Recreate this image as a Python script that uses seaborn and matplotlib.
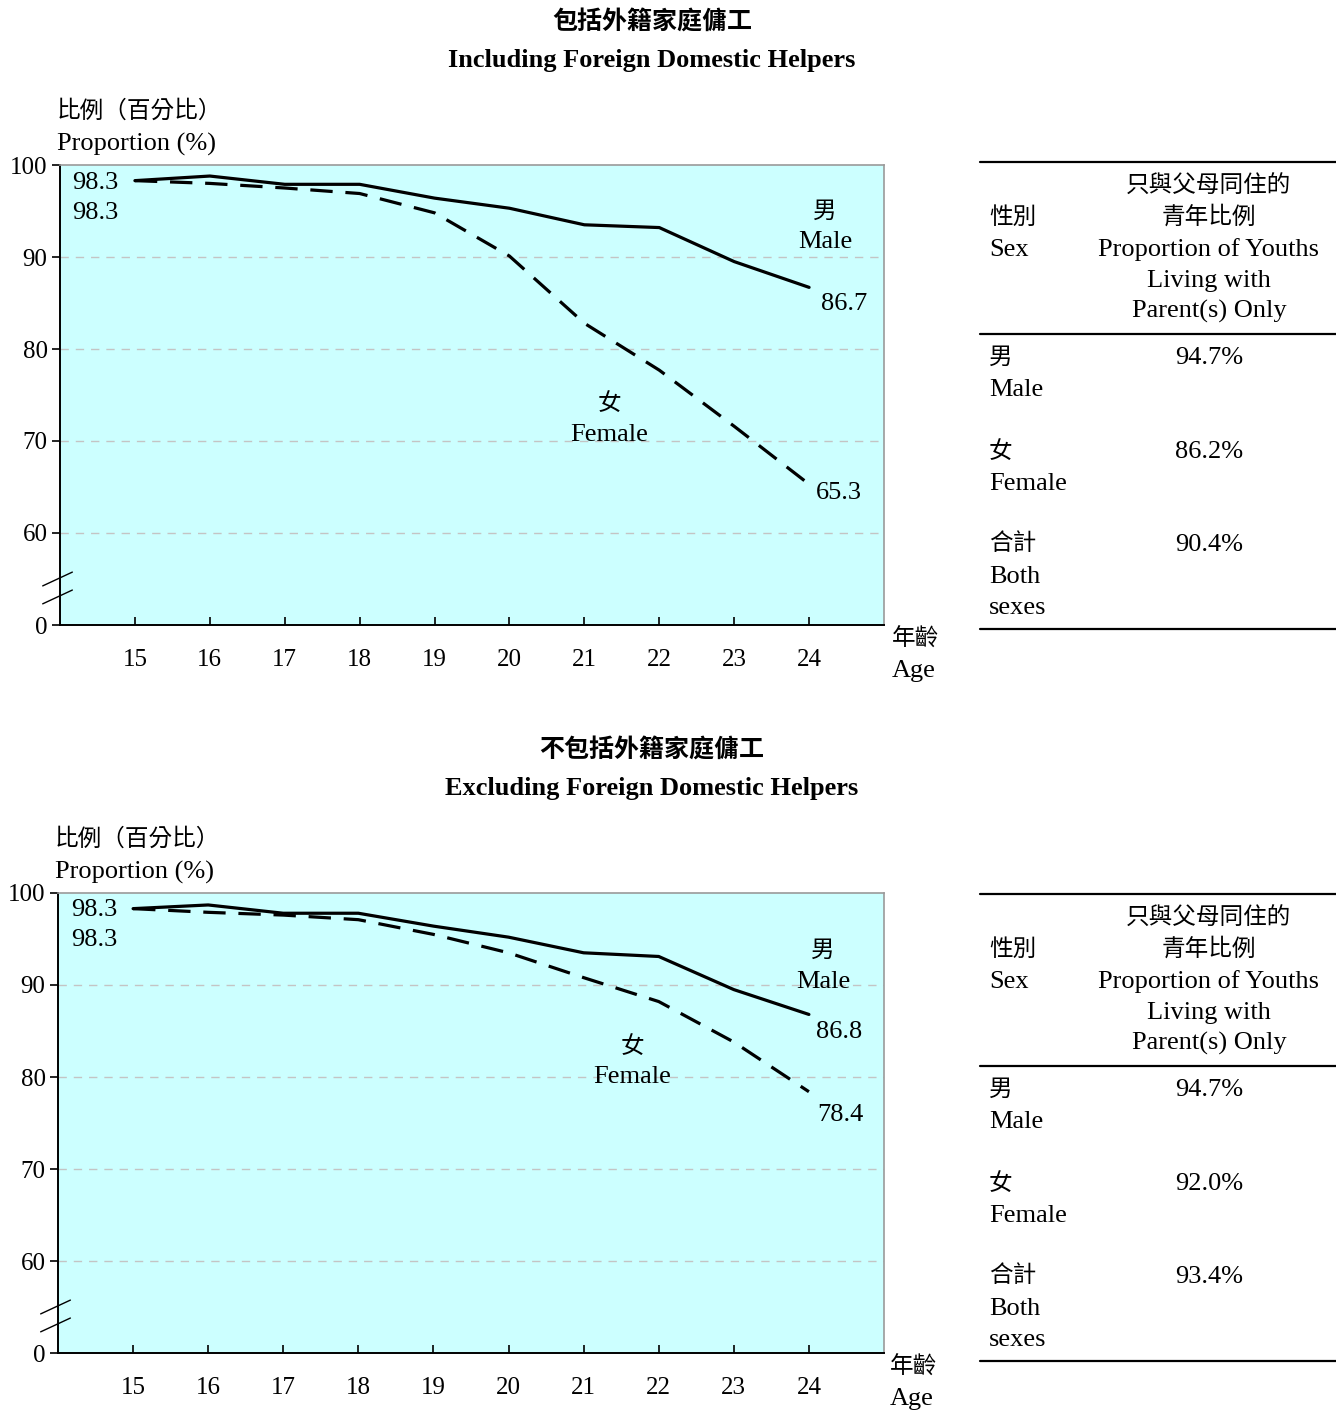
import matplotlib
matplotlib.use("Agg")
import matplotlib.pyplot as plt
from matplotlib.lines import Line2D
import seaborn as sns
import pandas as pd

# ---- data -------------------------------------------------------------
ages = [15, 16, 17, 18, 19, 20, 21, 22, 23, 24]

incl_male = [98.3, 98.8, 97.9, 97.9, 96.4, 95.3, 93.5, 93.2, 89.5, 86.7]
incl_female = [98.3, 98.0, 97.5, 96.9, 94.8, 90.1, 82.8, 77.7, 71.6, 65.3]

excl_male = [98.3, 98.7, 97.8, 97.8, 96.4, 95.2, 93.5, 93.1, 89.5, 86.8]
excl_female = [98.3, 97.9, 97.6, 97.1, 95.5, 93.5, 90.8, 88.2, 83.8, 78.4]

y_ticks = [50, 60, 70, 80, 90, 100]
y_tick_labels = ["0", "60", "70", "80", "90", "100"]

table_rows_zh = ["男", "女", "合計"]
table_rows_en = ["Male", "Female", "Both\nsexes"]
incl_table = [94.7, 86.2, 90.4]
excl_table = [94.7, 92.0, 93.4]

titles_zh = ["包括外籍家庭傭工", "不包括外籍家庭傭工"]
titles_en = ["Including Foreign Domestic Helpers", "Excluding Foreign Domestic Helpers"]

# ---- style ------------------------------------------------------------
sns.set_theme(style="white")
SERIF = ["Liberation Serif", "DejaVu Serif"]
CJK = ["Noto Sans CJK TC", "DejaVu Sans"]
plt.rcParams["font.family"] = SERIF
plt.rcParams["text.color"] = "black"
plt.rcParams["xtick.color"] = "black"
plt.rcParams["ytick.color"] = "black"
plt.rcParams["axes.labelcolor"] = "black"

W, H = 1336, 1416
fig = plt.figure(figsize=(W / 100, H / 100), dpi=100)


def px(x, y):
    return x / W, 1 - y / H


def ftext(x, y, s, size=19, fam=SERIF, ha="left", weight="normal"):
    fig.text(*px(x, y), s, fontsize=size, family=fam, ha=ha, va="center",
             weight=weight, color="black")


def hline(x0, x1, y, lw=1.6):
    fig.add_artist(Line2D([x0 / W, x1 / W], [1 - y / H, 1 - y / H],
                          transform=fig.transFigure, color="black", lw=lw))


def panel(dy, left, male, female, title_zh, title_en, lab_offsets):
    top, bottom, right = 165 + dy, 625 + dy, 884
    ax = fig.add_axes([left / W, 1 - bottom / H, (right - left) / W, (bottom - top) / H])
    ax.set_facecolor("#CCFFFF")

    df = pd.DataFrame({
        "age": ages * 2,
        "value": male + female,
        "sex": ["Male"] * len(ages) + ["Female"] * len(ages),
    })
    sns.lineplot(data=df, x="age", y="value", style="sex",
                 style_order=["Male", "Female"],
                 dashes={"Male": "", "Female": (7, 4)},
                 color="black", lw=2.3, legend=False, ax=ax, zorder=3)

    ax.set_xlim(14, 25)
    ax.set_ylim(50, 100)
    ax.set_xticks(ages)
    ax.set_xticklabels([str(a) for a in ages])
    ax.set_yticks(y_ticks)
    ax.set_yticklabels(y_tick_labels)
    ax.set_xlabel("")
    ax.set_ylabel("")
    for v in [60, 70, 80, 90]:
        ax.axhline(v, color="#C4C4C4", lw=1, ls=(0, (6, 5)), zorder=1)

    ax.tick_params(axis="x", direction="in", length=6, width=1.2, color="black",
                   labelcolor="black", labelsize=18, pad=17, bottom=True)
    ax.tick_params(axis="y", direction="out", length=6, width=1.2, color="black",
                   labelcolor="black", labelsize=18, pad=3, left=True)
    for side in ["left", "bottom"]:
        ax.spines[side].set_color("black")
        ax.spines[side].set_linewidth(1.4)
    for side in ["top", "right"]:
        ax.spines[side].set_color("#9A9A9A")
        ax.spines[side].set_linewidth(1.2)

    # axis break marks on the value axis
    for y0, y1 in [(0.085, 0.115), (0.046, 0.076)]:
        ax.plot([-0.021, 0.015], [y0, y1], transform=ax.transAxes,
                color="black", lw=1, clip_on=False, zorder=5)

    # value labels at the first and last ages
    (m0, f0, m1, f1) = lab_offsets
    for txt, xy, off in [(male[0], (ages[0], male[0]), m0),
                         (female[0], (ages[0], female[0]), f0),
                         (male[-1], (ages[-1], male[-1]), m1),
                         (female[-1], (ages[-1], female[-1]), f1)]:
        ax.annotate(f"{txt:.1f}", xy=xy, xytext=off, textcoords="offset pixels",
                    ha="center", va="center", fontsize=19, color="black")

    # titles and axis captions
    ftext(652, 22 + dy, title_zh, size=18, fam=CJK, ha="center", weight="bold")
    ftext(652, 60 + dy, title_en, size=19, ha="center", weight="bold")
    ftext(left - 3, 111 + dy, "比例（百分比）", size=17, fam=CJK)
    ftext(left - 3, 144 + dy, "Proportion (%)")
    ftext(left + 832, 639 + dy, "年齡", size=17, fam=CJK)
    ftext(left + 832, 671 + dy, "Age")
    return ax


ax1 = panel(0, 60, incl_male, incl_female, titles_zh[0], titles_en[0],
            [(-40, -2), (-40, -32), (35, -17), (30, -9)])
ax2 = panel(728, 58, excl_male, excl_female, titles_zh[1], titles_en[1],
            [(-39, -1), (-39, -31), (30, -18), (31, -23)])

# series names inside the plots
ftext(825, 211, "男", size=17, fam=CJK, ha="center")
ftext(825, 242, "Male", ha="center")
ftext(609, 403, "女", size=17, fam=CJK, ha="center")
ftext(609, 435, "Female", ha="center")
ftext(823, 950, "男", size=17, fam=CJK, ha="center")
ftext(823, 982, "Male", ha="center")
ftext(632, 1046, "女", size=17, fam=CJK, ha="center")
ftext(632, 1077, "Female", ha="center")


# summary tables
def table(dy, values):
    hline(980, 1336, 162 + dy)
    hline(980, 1336, 334 + dy)
    hline(980, 1336, 629 + dy)
    ftext(989, 217 + dy, "性別", size=17, fam=CJK)
    ftext(989, 250 + dy, "Sex")
    ftext(1209, 186 + dy, "只與父母同住的", size=17, fam=CJK, ha="center")
    ftext(1209, 217 + dy, "青年比例", size=17, fam=CJK, ha="center")
    ftext(1209, 250 + dy, "Proportion of Youths", ha="center")
    ftext(1209, 281 + dy, "Living with", ha="center")
    ftext(1209, 311 + dy, "Parent(s) Only", ha="center")
    row_y = [357, 451, 544]
    for zh, en, val, ry in zip(table_rows_zh, table_rows_en, values, row_y):
        ftext(989, ry + dy, zh, size=17, fam=CJK)
        for k, part in enumerate(en.split("\n")):
            ftext(989, ry + 33 + 31 * k + dy, part)
        ftext(1209, ry + 1 + dy, f"{val:.1f}%", ha="center")


table(0, incl_table)
table(732, excl_table)

fig.savefig("out.png", dpi=100, facecolor="white")
